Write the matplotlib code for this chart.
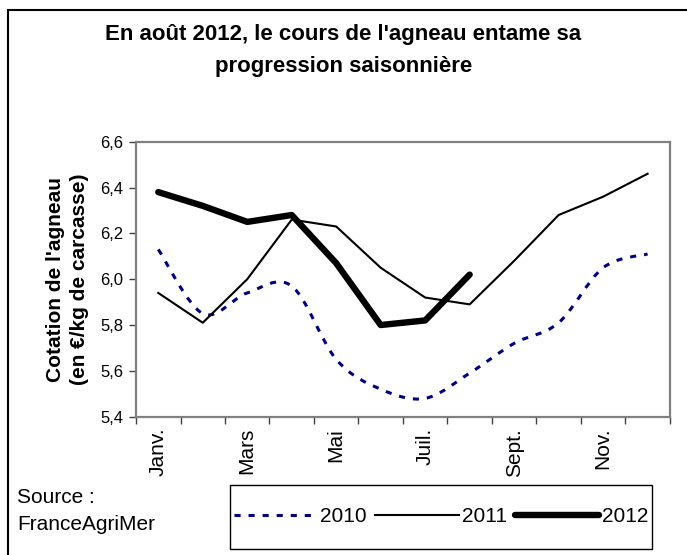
#!/usr/bin/env python3
# -*- coding: utf-8 -*-

import numpy as np
import matplotlib
matplotlib.use("Agg")
import matplotlib.pyplot as plt
from matplotlib.path import Path
from matplotlib.patches import PathPatch, Rectangle
from matplotlib.lines import Line2D

# ----------------------------
# Data
# ----------------------------

months = ["Janv.", "Févr.", "Mars", "Avr.", "Mai", "Juin",
          "Juil.", "Août", "Sept.", "Oct.", "Nov.", "Déc."]
cours_2010 = [6.13, 5.85, 5.94, 5.97, 5.65, 5.52, 5.48, 5.59, 5.72, 5.81, 6.05, 6.11]
cours_2011 = [5.94, 5.81, 6.00, 6.26, 6.23, 6.05, 5.92, 5.89, 6.08, 6.28, 6.36, 6.46]
cours_2012 = [6.38, 6.32, 6.25, 6.28, 6.07, 5.80, 5.82, 6.02]
y_ticks = [5.4, 5.6, 5.8, 6.0, 6.2, 6.4, 6.6]

plt.rcParams['font.family'] = ['Liberation Sans', 'DejaVu Sans']


def smooth_path(x, y):
    """Excel-like smoothed line (Catmull-Rom drawn as Bezier curves)."""
    pts = np.column_stack([x, y]).astype(float)
    n = len(pts)
    verts = [pts[0]]
    codes = [Path.MOVETO]
    for i in range(n - 1):
        p0 = pts[i - 1] if i > 0 else pts[i]
        p1, p2 = pts[i], pts[i + 1]
        p3 = pts[i + 2] if i + 2 < n else pts[i + 1]
        verts += [p1 + (p2 - p0) / 6, p2 - (p3 - p1) / 6, p2]
        codes += [Path.CURVE4] * 3
    return Path(verts, codes)


fig = plt.figure(figsize=(6.87, 5.55), dpi=100)
ax = fig.add_axes([0.198, 0.2492, 0.777, 0.4955])

x_all = np.arange(len(months))
dash_2010 = (0, (2.0, 2.6))

ax.add_patch(PathPatch(smooth_path(x_all, cours_2010), fill=False,
                       edgecolor='#000080', lw=2.2, linestyle=dash_2010))
ax.plot(x_all, cours_2011, color='black', lw=1.5)
ax.plot(x_all[:len(cours_2012)], cours_2012, color='black', lw=4.6,
        solid_capstyle='round', solid_joinstyle='round')

ax.set_xlim(-0.5, len(months) - 0.5)
ax.set_ylim(y_ticks[0], y_ticks[-1])

# x axis: ticks between months, labels every two months
ax.set_xticks(np.arange(-0.5, len(months), 1.0))
ax.set_xticklabels([])
ax.set_xticks(x_all[::2], minor=True)
ax.set_xticklabels(months[::2], minor=True, rotation=90, fontsize=15)
ax.tick_params(axis='x', which='major', direction='out', length=5,
               color='#404040', width=1)
ax.tick_params(axis='x', which='minor', length=0, pad=8)

ax.set_yticks(y_ticks)
ax.set_yticklabels([f"{v:.1f}".replace('.', ',') for v in y_ticks], fontsize=12)
ax.tick_params(axis='y', direction='out', length=5, color='#404040',
               width=1, pad=4)

for sp in ax.spines.values():
    sp.set_color('#808080')
    sp.set_linewidth(1.6)

ax.set_ylabel("Cotation de l'agneau\n(en €/kg de carcasse)", fontsize=15,
              fontweight='bold', linespacing=1.35)
ax.yaxis.set_label_coords(-0.088, 0.5)

# Title
fig.text(0.5, 1 - 40 / 555, "En août 2012, le cours de l'agneau entame sa",
         ha='center', va='baseline', fontsize=16, fontweight='bold')
fig.text(0.5, 1 - 72 / 555, "progression saisonnière",
         ha='center', va='baseline', fontsize=16, fontweight='bold')

# Source
fig.text(17 / 687, 1 - 503 / 555, "Source :", fontsize=15, va='baseline')
fig.text(17 / 687, 1 - 530 / 555, "FranceAgriMer", fontsize=15, va='baseline')

# Legend with its own box
fig.patches.append(Rectangle((230 / 687, 1 - 549 / 555), 422 / 687, 64 / 555,
                             transform=fig.transFigure, fill=False,
                             edgecolor='black', lw=1.0))
handles = [
    Line2D([], [], color='#000080', lw=2.2, linestyle=dash_2010),
    Line2D([], [], color='black', lw=1.5),
    Line2D([], [], color='black', lw=4.6, solid_capstyle='round'),
]
fig.legend(handles, ["2010", "2011", "2012"], loc='center',
           bbox_to_anchor=(441 / 687, 1 - 517 / 555), ncol=3, frameon=False,
           fontsize=15, handlelength=4.0, handletextpad=0.15,
           columnspacing=0.4, borderpad=0.2)

# Outer border (top and left visible)
fig.patches.append(Rectangle((8 / 687, -0.1), 1.2, 1 - 10 / 555 + 0.1,
                             transform=fig.transFigure, fill=False,
                             edgecolor='black', lw=1.5))

fig.savefig("out.png", dpi=100)
